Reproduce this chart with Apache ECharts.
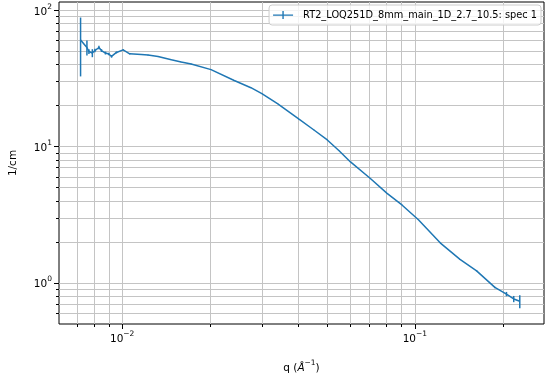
<!DOCTYPE html>
<html>
<head>
<meta charset="utf-8" />
<script src="https://cdn.jsdelivr.net/npm/echarts@6/dist/echarts.min.js"></script>
<style type="text/css">
	html, body, #main {
	width: 100%;
	height: 100%;
	margin: 0;
	background: #fff;
}
</style>
</head>
<body>
	<div id="main"></div>
	<script>
		// q (1/A) and intensity (1/cm)
		var qValues = [0.00721, 0.00758, 0.00770, 0.00791, 0.00807, 0.00833, 0.00850, 0.00877, 0.00900, 0.00920,
			0.00956, 0.01008, 0.01061, 0.01163, 0.01226, 0.01326, 0.01472, 0.01591, 0.01721, 0.02012,
			0.02415, 0.02753, 0.03001, 0.03393, 0.04019, 0.04521, 0.05021, 0.05497, 0.06026, 0.07046,
			0.08035, 0.09032, 0.1028, 0.1220, 0.1426, 0.1625, 0.1876, 0.2055, 0.2176, 0.2282];
		var intensity = [60.8, 53.5, 50.0, 48.7, 50.8, 53.5, 50.8, 48.7, 47.9, 46.0,
			49.2, 51.4, 48.1, 47.5, 47.1, 46.0, 43.5, 41.9, 40.5, 36.8,
			30.6, 27.1, 24.5, 20.7, 15.9, 13.25, 11.2, 9.37, 7.72, 5.83,
			4.54, 3.73, 2.90, 1.964, 1.484, 1.223, 0.924, 0.826, 0.760, 0.731];
		var errors = [28, 6.7, 2.0, 3.3, 1.5, 1.5, 1.2, 1.2, 1.0, 1.0,
			0.8, 0.6, 0.5, 0.4, 0.3, 0.3, 0.2, 0.2, 0.15, 0.12,
			0.1, 0.08, 0.07, 0.06, 0.05, 0.04, 0.03, 0.025, 0.02, 0.015,
			0.012, 0.01, 0.01, 0.008, 0.008, 0.01, 0.012, 0.03, 0.04, 0.08];

		var seriesName = 'RT2_LOQ251D_8mm_main_1D_2.7_10.5: spec 1';
		var xMajor = [0.01, 0.1];
		var xAll = [0.007, 0.008, 0.009, 0.01, 0.02, 0.03, 0.04, 0.05, 0.06, 0.07, 0.08, 0.09, 0.1, 0.2];
		var yMajor = [1, 10, 100];
		var yAll = [0.6, 0.7, 0.8, 0.9, 1, 2, 3, 4, 5, 6, 7, 8, 9, 10, 20, 30, 40, 50, 60, 70, 80, 90, 100];
		var xExponents = { '0.01': '−2', '0.1': '−1' };
		var yExponents = { '1': '0', '10': '1', '100': '2' };

		var blue = '#1f77b4';
		var font = 'DejaVu Sans';

		var lineData = [];
		var errData = [];
		for (var i = 0; i < qValues.length; i++) {
			lineData.push([qValues[i], intensity[i]]);
			errData.push([qValues[i], intensity[i] - errors[i], intensity[i] + errors[i]]);
		}

		// mathtext-like 10^n labels
		var powRich = {
			b : { fontFamily : font, fontSize : 10.5, color : '#000', lineHeight : 15, verticalAlign : 'bottom' },
			s : { fontFamily : font, fontSize : 7.5, color : '#000', lineHeight : 9, verticalAlign : 'top' }
		};

		var chart = echarts.init(document.getElementById('main'));

		function minorAxis(extra) {
			var a = {
				type : 'log',
				logBase : 10,
				axisLine : { show : false },
				axisLabel : { show : false },
				splitLine : { show : true, lineStyle : { color : '#c4c4c4', width : 1 } }
			};
			for (var k in extra) a[k] = extra[k];
			return a;
		}

		var option = {
			animation : false,
			textStyle : { fontFamily : font },
			grid : {
				left : 57, right : 3, top : 2, bottom : 52,
				show : true, borderColor : '#000', borderWidth : 1,
				backgroundColor : 'transparent'
			},
			legend : {
				right : 6, top : 5,
				padding : [5, 4, 5, 4],
				borderColor : '#cccccc', borderWidth : 1, borderRadius : 3,
				backgroundColor : 'rgba(255,255,255,0.8)',
				itemWidth : 20, itemHeight : 10, itemGap : 0,
				textStyle : { fontFamily : font, fontSize : 9.8, color : '#000', padding : [0, 0, 0, 5] },
				data : [ {
					name : seriesName,
					icon : 'path://M0,4.4h20v1.4h-20z M9.3,1h1.4v8h-1.4z',
					itemStyle : { color : blue }
				} ]
			},
			xAxis : [
				minorAxis({ min : 0.006085, max : 0.2761, position : 'bottom',
					axisTick : { show : true, length : 3, customValues : xAll, lineStyle : { color : '#000' } } }),
				{
					type : 'log', logBase : 10, min : 0.006085, max : 0.2761, position : 'bottom',
					axisLine : { show : false },
					splitLine : { show : false },
					axisTick : { show : true, length : 5, customValues : xMajor, lineStyle : { color : '#000' } },
					axisLabel : {
						show : true, customValues : xMajor, margin : 6,
						rich : powRich,
						formatter : function(v) { return '{b|10}{s|' + (xExponents[String(v)] || '') + '}'; }
					},
					name : '{q|q (}{a|Å}{s|−1}{q|)}',
					nameLocation : 'middle', nameGap : 35,
					nameTextStyle : {
						rich : {
							q : { fontFamily : font, fontSize : 10.5, color : '#000', lineHeight : 15, verticalAlign : 'bottom' },
							a : { fontFamily : font, fontSize : 10.5, fontStyle : 'italic', color : '#000', lineHeight : 15, verticalAlign : 'bottom' },
							s : { fontFamily : font, fontSize : 7.5, color : '#000', lineHeight : 9, verticalAlign : 'top' }
						}
					}
				}
			],
			yAxis : [
				minorAxis({ min : 0.4977, max : 115.5, position : 'left',
					axisTick : { show : true, length : 3, customValues : yAll, lineStyle : { color : '#000' } } }),
				{
					type : 'log', logBase : 10, min : 0.4977, max : 115.5, position : 'left',
					axisLine : { show : false },
					splitLine : { show : false },
					axisTick : { show : true, length : 5, customValues : yMajor, lineStyle : { color : '#000' } },
					axisLabel : {
						show : true, customValues : yMajor, margin : 7,
						rich : powRich,
						formatter : function(v) { return '{b|10}{s|' + (yExponents[String(v)] || '') + '}'; }
					},
					name : '1/cm',
					nameLocation : 'middle', nameGap : 40, nameRotate : 90,
					nameTextStyle : { fontFamily : font, fontSize : 10.5, color : '#000' }
				}
			],
			series : [ {
				name : seriesName,
				type : 'line',
				data : lineData,
				showSymbol : false,
				symbol : 'none',
				lineStyle : { color : blue, width : 1.5 },
				itemStyle : { color : blue },
				z : 3
			}, {
				name : seriesName,
				type : 'custom',
				data : errData,
				encode : { x : 0, y : [1, 2] },
				clip : true,
				z : 4,
				renderItem : function(params, api) {
					var lo = api.coord([api.value(0), api.value(1)]);
					var hi = api.coord([api.value(0), api.value(2)]);
					return {
						type : 'line',
						shape : { x1 : lo[0], y1 : lo[1], x2 : hi[0], y2 : hi[1] },
						style : { stroke : blue, lineWidth : 1.5 }
					};
				}
			} ]
		};

		chart.setOption(option);

		window.onresize = function() {
			chart.resize();
		}
	</script>
</body>
</html>
